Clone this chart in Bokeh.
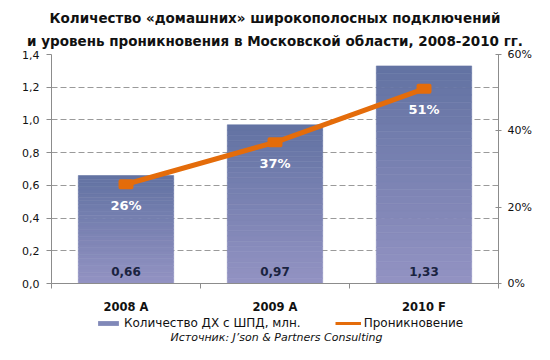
from bokeh.plotting import figure
from bokeh.layouts import column
from bokeh.models import (Range1d, LinearAxis, FixedTicker, CustomJSTickFormatter,
                          Legend, LegendItem, Title, Label)
from bokeh.core.properties import value
from bokeh.embed import file_html
from bokeh.resources import INLINE

# ---- data ----
categories = ["2008 A", "2009 A", "2010 F"]
subscribers = [0.66, 0.97, 1.33]          # млн.
penetration = [26, 37, 51]                # %
subscriber_labels = ["0,66", "0,97", "1,33"]
penetration_labels = ["26%", "37%", "51%"]
left_ticks = [0.0, 0.2, 0.4, 0.6, 0.8, 1.0, 1.2, 1.4]
right_ticks = [0, 20, 40, 60]
series_names = ["Количество ДХ с ШПД, млн.", "Проникновение"]
source_text = "Источник: J’son & Partners Consulting"
title_lines = ["Количество «домашних» широкополосных подключений",
               "и уровень проникновения в Московской области, 2008-2010 гг."]

FONT = "DejaVu Sans"
ORANGE = "#E46C0A"
AXIS = "#8C8C8C"
BAR_MID = "#8088B8"
W = 534

xs = [i + 0.5 for i in range(len(categories))]
boundaries = [i for i in range(len(categories) + 1)]

p = figure(width=W, height=316, x_range=Range1d(0, len(categories)),
           y_range=Range1d(0, 1.4), output_backend="svg", toolbar_location=None,
           min_border_left=51, min_border_right=35, min_border_top=54,
           min_border_bottom=29)
p.extra_y_ranges = {"pct": Range1d(0, 60)}
p.outline_line_color = None
p.background_fill_color = "white"

# ---- bars with vertical gradient (slices computed from values) ----
def hexc(c):
    return tuple(int(c[i:i + 2], 16) for i in (1, 3, 5))

bottom_col = hexc("#9292C2")
top_col = hexc("#6373A3")
N = 30
sx, stop, sbot, scol = [], [], [], []
for xc, v in zip(xs, subscribers):
    for k in range(N):
        t = k / (N - 1)
        c = tuple(round(b + (tc - b) * t) for b, tc in zip(bottom_col, top_col))
        sx.append(xc)
        sbot.append(v * k / N)
        stop.append(v * (k + 1) / N)
        scol.append("#%02x%02x%02x" % c)
p.vbar(x=sx, top=stop, bottom=sbot, width=0.64, fill_color=scol,
       line_color=scol, line_width=0.6)

# ---- penetration line ----
p.line(xs, penetration, y_range_name="pct", line_color=ORANGE, line_width=5)
p.rect(xs, penetration, width=11, height=6, width_units="screen", height_units="screen",
       y_range_name="pct", fill_color=ORANGE, line_color=ORANGE, line_width=4,
       line_join="round")

# ---- data labels ----
p.text(xs, [0] * len(xs), text=subscriber_labels, text_align="center",
       text_baseline="middle", y_offset=-12, text_font=value(FONT),
       text_font_style="bold", text_font_size="12px", text_color="#1A2340")
p.text(xs, penetration, text=penetration_labels, y_range_name="pct",
       text_align="center", text_baseline="middle", y_offset=21,
       text_font=value(FONT), text_font_style="bold", text_font_size="13px",
       text_color="white")

# ---- grid ----
p.xgrid.visible = False
p.ygrid.ticker = FixedTicker(ticks=left_ticks)
p.ygrid.grid_line_color = "#9A9A9A"
p.ygrid.grid_line_dash = "6 3"
p.ygrid.grid_line_width = 1

# ---- axes ----
ya = p.yaxis[0]
ya.ticker = FixedTicker(ticks=left_ticks)
ya.formatter = CustomJSTickFormatter(code="return tick.toFixed(1).replace('.', ',');")
ya.axis_line_color = AXIS
ya.major_tick_line_color = AXIS
ya.major_tick_out = 5
ya.major_tick_in = 0
ya.minor_tick_line_color = None
ya.major_label_text_font = FONT
ya.major_label_text_font_size = "11px"
ya.major_label_text_color = "#111111"
ya.major_label_standoff = 7

ra = LinearAxis(y_range_name="pct", ticker=FixedTicker(ticks=right_ticks),
                formatter=CustomJSTickFormatter(code="return tick + '%';"))
ra.axis_line_color = AXIS
ra.major_tick_line_color = AXIS
ra.major_tick_out = 3
ra.major_tick_in = 3
ra.minor_tick_line_color = None
ra.major_label_text_font = FONT
ra.major_label_text_font_size = "11px"
ra.major_label_text_color = "#111111"
ra.major_label_standoff = 6
p.add_layout(ra, "right")

xa = p.xaxis[0]
xa.ticker = FixedTicker(ticks=xs, minor_ticks=boundaries)
xa.formatter = CustomJSTickFormatter(args=dict(labels=categories),
                                     code="return labels[Math.round(tick - 0.5)];")
xa.axis_line_color = AXIS
xa.major_tick_line_color = None
xa.minor_tick_line_color = AXIS
xa.minor_tick_out = 5
xa.minor_tick_in = 0
xa.major_label_text_font = FONT
xa.major_label_text_font_style = "bold"
xa.major_label_text_font_size = "11.5px"
xa.major_label_text_color = "#111111"
xa.major_label_standoff = 10

# ---- title ----
p.add_layout(Title(text=title_lines[1], align="center", text_font=FONT,
                   text_font_style="bold", text_font_size="13.5px",
                   text_color="#111111", standoff=11), "above")
p.add_layout(Title(text=title_lines[0], align="center", text_font=FONT,
                   text_font_style="bold", text_font_size="13.5px",
                   text_color="#111111", standoff=0), "above")

# ---- legend + source strip (its frame is aligned with the chart's frame) ----
p2 = figure(width=W, height=28, x_range=Range1d(0, 1), y_range=Range1d(0, 1),
            output_backend="svg", toolbar_location=None, min_border=0)
p2.axis.visible = False
p2.grid.visible = False
p2.outline_line_color = None
# legend swatches only (kept outside the visible range)
leg_bar = p2.vbar(x=[-5], top=[-5], bottom=[-6], width=0.5, fill_color=BAR_MID,
                  line_color=None)
leg_line = p2.line(x=[-6, -5], y=[-5, -5], line_color=ORANGE, line_width=3)
legend = Legend(items=[LegendItem(label=series_names[0], renderers=[leg_bar]),
                       LegendItem(label=series_names[1], renderers=[leg_line])],
                orientation="horizontal", location=(44, 14), border_line_color=None,
                background_fill_alpha=0, glyph_width=26, glyph_height=6,
                label_height=14, spacing=34, label_standoff=3, label_text_font=FONT,
                label_text_font_size="12px", label_text_color="#111111",
                label_text_baseline="middle", padding=0, margin=0)
p2.add_layout(legend, "center")
p2.add_layout(Label(x=225, y=1, x_units="screen", y_units="screen", text=source_text,
                    text_align="center", text_baseline="bottom", text_font=FONT,
                    text_font_style="italic", text_font_size="11px",
                    text_color="#111111"))

layout = column(p, p2, spacing=0)
open("out.html", "w").write(file_html(layout, INLINE))
